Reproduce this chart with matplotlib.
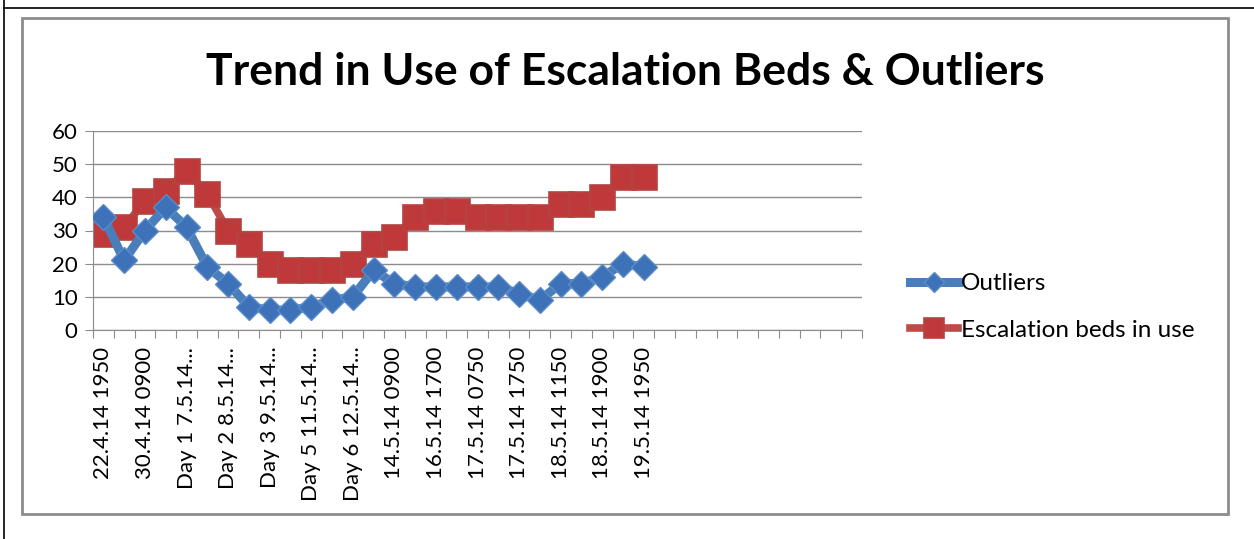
import matplotlib.pyplot as plt
from matplotlib.lines import Line2D
from matplotlib.patches import Rectangle

# Category labels (every second category is labelled, the tail is left empty)
labels = ["22.4.14 1950", "", "30.4.14 0900", "", "Day 1 7.5.14...", "",
          "Day 2 8.5.14...", "", "Day 3 9.5.14...", "", "Day 5 11.5.14...", "",
          "Day 6 12.5.14...", "", "14.5.14 0900", "", "16.5.14 1700", "",
          "17.5.14 0750", "", "17.5.14 1750", "", "18.5.14 1150", "",
          "18.5.14 1900", "", "19.5.14 1950"]
n_categories = 37

outliers = [34, 21, 30, 37, 31, 19, 14, 7, 6, 6, 7, 9, 10, 18, 14, 13, 13,
            13, 13, 13, 11, 9, 14, 14, 16, 20, 19]
escalation = [29, 31, 39, 42, 48, 41, 30, 26, 20, 18, 18, 18, 20, 26, 28, 34,
              36, 36, 34, 34, 34, 34, 38, 38, 40, 46, 46]

blue = "#4A7EBB"
blue_mk = "#3D72B8"
red = "#BE4B48"
red_mk = "#C0393A"

plt.rcParams["font.family"] = ["Lato", "DejaVu Sans"]

fig = plt.figure(figsize=(12.54, 5.39), dpi=100)
W, H = 1254, 539

def fx(px):
    return px / W

def fy(py):
    return 1 - py / H

# outer page frame lines
fig.add_artist(Line2D([fx(4), fx(4)], [0, 1], color="black", lw=1.2))
fig.add_artist(Line2D([fx(4), 1], [fy(8), fy(8)], color="black", lw=1.2))
# chart area border
fig.add_artist(Rectangle((fx(22), fy(514)), fx(1228) - fx(22), fy(18) - fy(514),
                         fill=False, edgecolor="#8C8C8C", lw=2))

ax = fig.add_axes([fx(93), fy(330), fx(862) - fx(93), fy(131) - fy(330)])

x = list(range(len(outliers)))
ax.plot(x, outliers, color=blue, lw=6.5, marker="D", markersize=13,
        markerfacecolor=blue_mk, markeredgecolor="#5A8CC8", markeredgewidth=1,
        label="Outliers", solid_joinstyle="round", zorder=3)
ax.plot(x, escalation, color=red, lw=5.5, marker="s", markersize=18,
        markerfacecolor=red_mk, markeredgecolor="#B24440", markeredgewidth=1.2,
        label="Escalation beds in use", zorder=2)

ax.set_xlim(-0.5, n_categories - 0.5)
ax.set_ylim(0, 60)
ax.set_yticks(range(0, 61, 10))
ax.yaxis.grid(True, color="#8C8C8C", lw=1)
ax.set_axisbelow(True)

# tick marks between categories, labels at category centres
ax.set_xticks([k - 0.5 for k in range(n_categories + 1)])
ax.set_xticklabels([])
ax.tick_params(axis="x", which="major", length=6, color="#8C8C8C", direction="out")
ax.set_xticks(range(len(labels)), minor=True)
ax.set_xticklabels(labels, minor=True, rotation=90, fontsize=16)
ax.tick_params(axis="x", which="minor", length=0, pad=12)
ax.tick_params(axis="y", length=6, color="#8C8C8C", labelsize=16, pad=5)

for side in ("top", "right"):
    ax.spines[side].set_visible(False)
for side in ("left", "bottom"):
    ax.spines[side].set_color("#8C8C8C")

fig.text(fx(625), fy(72), "Trend in Use of Escalation Beds & Outliers",
         ha="center", va="center", fontsize=32, fontweight="bold")

leg = fig.legend(loc="center left", bbox_to_anchor=(fx(888), fy(307)),
                 frameon=False, fontsize=17.5, handlelength=2.0,
                 handletextpad=0.1, labelspacing=1.05, markerscale=0.8)

fig.savefig("out.png", dpi=100)
